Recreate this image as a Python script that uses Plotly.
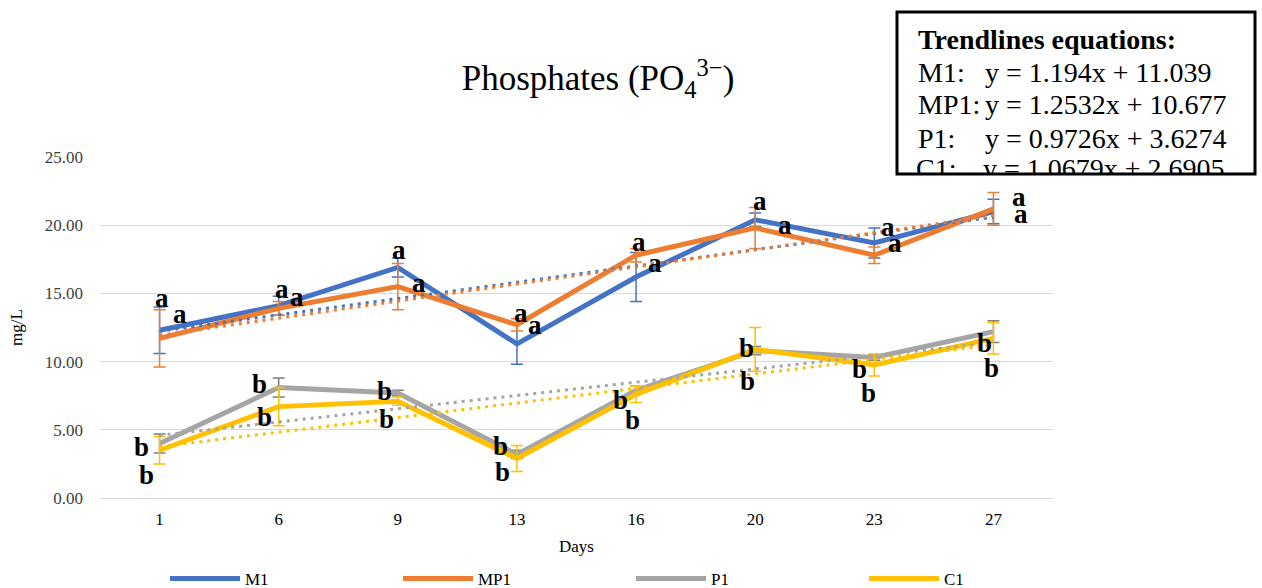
import plotly.graph_objects as go

# ---------------- data ----------------
days = ["1", "6", "9", "13", "16", "20", "23", "27"]
series_names = ["M1", "MP1", "P1", "C1"]

m1 = [12.3, 14.1, 16.9, 11.3, 16.2, 20.4, 18.7, 21.0]
m1_err = [1.7, 0.7, 0.7, 1.5, 1.8, 0.5, 1.1, 0.9]
mp1 = [11.7, 13.9, 15.5, 12.7, 17.8, 19.8, 17.8, 21.2]
mp1_err = [2.1, 0.5, 1.7, 0.45, 0.5, 1.5, 0.6, 1.2]
p1 = [4.0, 8.1, 7.7, 3.2, 7.9, 10.8, 10.3, 12.2]
p1_err = [0.7, 0.7, 0.2, 0.3, 0.3, 0.3, 0.2, 0.8]
c1 = [3.5, 6.7, 7.1, 2.9, 7.6, 10.9, 9.75, 11.7]
c1_err = [1.0, 1.4, 0.3, 0.95, 0.6, 1.6, 0.8, 1.15]

m1_sig = ["a", "a", "a", "a", "a", "a", "a", "a"]
mp1_sig = ["a", "a", "a", "a", "a", "a", "a", "a"]
p1_sig = ["b", "b", "b", "b", "b", "b", "b", "b"]
c1_sig = ["b", "b", "b", "b", "b", "b", "b", "b"]

trend_slope = [1.194, 1.2532, 0.9726, 1.0679]
trend_intercept = [11.039, 10.677, 3.6274, 2.6905]
trend_text = ["y = 1.194x + 11.039", "y = 1.2532x + 10.677",
              "y = 0.9726x + 3.6274", "y = 1.0679x + 2.6905"]

# ---------------- styling ----------------
colors = ["#4472C4", "#ED7D31", "#A5A5A5", "#FFC000"]
err_colors = ["#4472C4", "#ED7D31", "#7F7F7F", "#FFC000"]
FONT = "Liberation Serif"

# label pixel offsets relative to each point (x right, y up)
lbl_dx = [
    [2, 3, 1, 4, 3, 5, 14, 26],
    [20, 18, 21, 18, 19, 30, 21, 28],
    [-18, -19, -13, -16, -16, -9, -15, -9],
    [-13, -14, -11, -14, -4, -8, -6, -2],
]
lbl_dy = [
    [32, 17, 17, 31, 35, 19, 16, 15],
    [24, 11, 4, 0, -8, 3, 12, -5],
    [-4, 4, 2, 8, -10, 3, -11, -11],
    [-25, -10, -18, -14, -26, -32, -28, -30],
]

values = [m1, mp1, p1, c1]
errors = [m1_err, mp1_err, p1_err, c1_err]
sigs = [m1_sig, mp1_sig, p1_sig, c1_sig]
xs = list(range(1, len(days) + 1))

# plot-area geometry (px)
L, R, T, B = 100, 1053, 157, 498
W, H = R - L, B - T
WIDTH, HEIGHT = 1262, 588


def px2paper(px, py):
    return (px - L) / W, (B - py) / H


fig = go.Figure()

for name, vals, err, col, ecol in zip(series_names, values, errors, colors, err_colors):
    fig.add_trace(go.Scatter(
        x=xs, y=vals, name=name, mode="lines",
        line=dict(color=col, width=5),
        error_y=dict(type="data", array=err, visible=True, color=ecol,
                     thickness=1.5, width=6),
        showlegend=True,
    ))

# linear trendlines (from the printed equations)
for a, b, col in zip(trend_slope, trend_intercept, colors):
    tx = [xs[0], xs[-1]]
    fig.add_trace(go.Scatter(
        x=tx, y=[a * v + b for v in tx], mode="lines",
        line=dict(color=col, width=3, dash="3px,5px"),
        showlegend=False, hoverinfo="skip",
    ))

# significance letters
annotations = []
for si, (vals, sg) in enumerate(zip(values, sigs)):
    for i, (v, s) in enumerate(zip(vals, sg)):
        annotations.append(dict(
            x=xs[i], y=v, xref="x", yref="y", text=s, showarrow=False,
            xshift=lbl_dx[si][i], yshift=lbl_dy[si][i],
            font=dict(family=FONT, size=27, color="black", weight="bold"),
        ))

# trendline equation box
box_x0, box_y0, box_x1, box_y1 = 897, 12, 1255, 174
bx0, by0 = px2paper(box_x0, box_y1)
bx1, by1 = px2paper(box_x1, box_y0)
lab_px, eq_px = 916, 983
line_py = [39, 72, 105, 138, 171]

ax_, ay_ = px2paper(lab_px, line_py[0])
annotations.append(dict(x=ax_, y=ay_, xref="paper", yref="paper", xanchor="left",
                        yanchor="middle", showarrow=False, text="<b>Trendlines equations:</b>",
                        font=dict(family=FONT, size=28, color="black")))
for k in range(3):
    lx, ly = px2paper(lab_px, line_py[k + 1])
    ex, ey = px2paper(eq_px, line_py[k + 1])
    annotations.append(dict(x=lx, y=ly, xref="paper", yref="paper", xanchor="left",
                            yanchor="middle", showarrow=False, text=series_names[k] + ":",
                            font=dict(family=FONT, size=28, color="black")))
    annotations.append(dict(x=ex, y=ey, xref="paper", yref="paper", xanchor="left",
                            yanchor="middle", showarrow=False, text=trend_text[k],
                            font=dict(family=FONT, size=28, color="black")))

# last equation line drawn as trace text so the box border can cross it
lx, ly = px2paper(lab_px, line_py[4])
ex, ey = px2paper(eq_px, line_py[4])
fig.add_trace(go.Scatter(
    x=[0.5 + 8 * lx, 0.5 + 8 * ex], y=[25 * ly, 25 * ey], mode="text",
    text=[series_names[3] + ":", trend_text[3]], textposition="middle right",
    textfont=dict(family=FONT, size=28, color="black"),
    showlegend=False, hoverinfo="skip", cliponaxis=False,
))

mx0, my_top = px2paper(box_x0 - 2, 175)
mx1, my_bot = px2paper(box_x1 + 2, 190)
shapes = [
    dict(type="rect", xref="paper", yref="paper", x0=bx0, y0=by0, x1=bx1, y1=by1,
         fillcolor="white", line=dict(width=0), layer="between"),
    dict(type="rect", xref="paper", yref="paper", x0=mx0, y0=my_bot, x1=mx1, y1=my_top,
         fillcolor="white", line=dict(width=0), layer="above"),
    dict(type="rect", xref="paper", yref="paper", x0=bx0, y0=by0, x1=bx1, y1=by1,
         fillcolor="rgba(0,0,0,0)", line=dict(color="black", width=3), layer="above"),
]

fig.update_layout(
    width=WIDTH, height=HEIGHT,
    margin=dict(l=L, r=WIDTH - R, t=T, b=HEIGHT - B, pad=0, autoexpand=False),
    paper_bgcolor="white", plot_bgcolor="white",
    font=dict(family=FONT, size=17, color="#595959"),
    title=dict(text="Phosphates (PO<sub>4</sub><sup>3−</sup>)",
               x=598 / WIDTH, xref="container", xanchor="center",
               y=1 - 78 / HEIGHT, yref="container", yanchor="middle",
               font=dict(family=FONT, size=35, color="black")),
    xaxis=dict(range=[0.5, 8.5], tickvals=xs, ticktext=days, showgrid=False,
               zeroline=False, showline=False, ticks="", ticklabelstandoff=9,
               title=dict(text="Days", standoff=12, font=dict(size=17, color="#000000")),
               tickfont=dict(size=17, color="#000000")),
    yaxis=dict(range=[0, 25], dtick=5, tickformat=".2f", showgrid=True,
               gridcolor="#D9D9D9", gridwidth=1.3, zeroline=True, zerolinecolor="#D9D9D9",
               zerolinewidth=1.3, showline=False, ticks="", ticklabelstandoff=16,
               title=dict(text="mg/L", standoff=17, font=dict(size=17, color="#000000")),
               tickfont=dict(size=17, color="#404040")),
    legend=dict(orientation="h", xref="container", x=165 / WIDTH, xanchor="left",
                yref="container", y=1 - 579 / HEIGHT, yanchor="middle",
                entrywidth=148, entrywidthmode="pixels",
                itemwidth=70, font=dict(size=17, color="#000000"),
                bgcolor="rgba(0,0,0,0)"),
    annotations=annotations,
    shapes=shapes,
)

fig.write_html("out.html")
